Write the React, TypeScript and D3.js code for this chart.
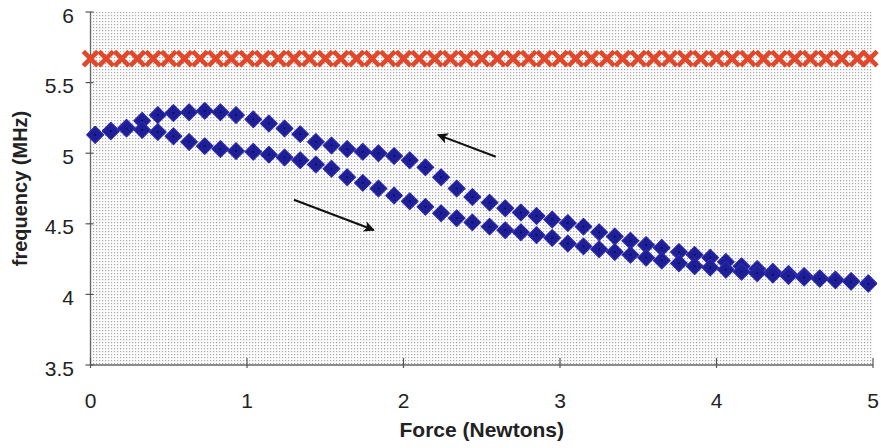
import React from 'react';
import * as d3 from 'd3';

// force steps (N) for the blue hysteresis loop
const blueForce = [
  0.03, 0.13, 0.23, 0.33, 0.43, 0.53, 0.63, 0.73, 0.83, 0.93,
  1.04, 1.14, 1.24, 1.34, 1.44, 1.54, 1.64, 1.74, 1.84, 1.94,
  2.04, 2.14, 2.24, 2.34, 2.44, 2.55, 2.65, 2.75, 2.85, 2.95,
  3.05, 3.15, 3.25, 3.35, 3.45, 3.55, 3.65, 3.76, 3.86, 3.96,
  4.06, 4.16, 4.26, 4.36, 4.46, 4.56, 4.66, 4.76, 4.86, 4.97,
];
// loading branch (force increasing)
const loading = [
  5.13, 5.155, 5.175, 5.165, 5.15, 5.12, 5.08, 5.05, 5.03, 5.015,
  5.01, 4.99, 4.97, 4.95, 4.92, 4.89, 4.83, 4.79, 4.75, 4.70,
  4.66, 4.62, 4.575, 4.54, 4.51, 4.48, 4.455, 4.44, 4.42, 4.40,
  4.36, 4.34, 4.32, 4.30, 4.28, 4.26, 4.24, 4.22, 4.20, 4.19,
  4.175, 4.16, 4.15, 4.14, 4.13, 4.12, 4.11, 4.10, 4.09, 4.075,
];
// unloading branch (force decreasing)
const unloading = [
  5.13, 5.16, 5.18, 5.23, 5.27, 5.285, 5.29, 5.30, 5.29, 5.27,
  5.24, 5.21, 5.175, 5.135, 5.08, 5.055, 5.03, 5.01, 5.00, 4.98,
  4.95, 4.90, 4.83, 4.75, 4.69, 4.65, 4.61, 4.58, 4.555, 4.53,
  4.505, 4.48, 4.44, 4.41, 4.38, 4.35, 4.33, 4.30, 4.28, 4.26,
  4.23, 4.20, 4.18, 4.16, 4.145, 4.13, 4.115, 4.105, 4.095, 4.08,
];

// reference series (red crosses)
const redForce = [
  0.0, 0.1, 0.2, 0.3, 0.4, 0.5, 0.6, 0.7, 0.8, 0.9,
  1.0, 1.1, 1.2, 1.3, 1.4, 1.5, 1.6, 1.7, 1.8, 1.9,
  2.0, 2.1, 2.2, 2.3, 2.4, 2.5, 2.6, 2.7, 2.8, 2.9,
  3.0, 3.1, 3.2, 3.3, 3.4, 3.5, 3.6, 3.7, 3.8, 3.9,
  4.0, 4.1, 4.2, 4.3, 4.4, 4.5, 4.6, 4.7, 4.8, 4.9, 4.98,
];
const redFreq = [
  5.67, 5.67, 5.67, 5.67, 5.67, 5.67, 5.67, 5.67, 5.67, 5.67,
  5.67, 5.67, 5.67, 5.67, 5.67, 5.67, 5.67, 5.67, 5.67, 5.67,
  5.67, 5.67, 5.67, 5.67, 5.67, 5.67, 5.67, 5.67, 5.67, 5.67,
  5.67, 5.67, 5.67, 5.67, 5.67, 5.67, 5.67, 5.67, 5.67, 5.67,
  5.67, 5.67, 5.67, 5.67, 5.67, 5.67, 5.67, 5.67, 5.67, 5.67, 5.67,
];

const xTicks = [0, 1, 2, 3, 4, 5];
const yTicks = [3.5, 4, 4.5, 5, 5.5, 6];

// direction arrows [x1, y1, x2, y2] in data units (tail -> head)
const arrows = [
  [2.59, 4.975, 2.22, 5.13],
  [1.30, 4.67, 1.81, 4.456],
];

const W = 881;
const H = 448;
const margin = { left: 90.5, right: 8, top: 12, bottom: 83 };

export default function App() {
  const x = d3.scaleLinear().domain([0, 5]).range([margin.left, W - margin.right]);
  const y = d3.scaleLinear().domain([3.5, 6]).range([H - margin.bottom, margin.top]);
  const font = 'Arial, "Liberation Sans", sans-serif';

  const diamond = (cx: number, cy: number, r: number) =>
    `M${cx},${cy - r}L${cx + r},${cy}L${cx},${cy + r}L${cx - r},${cy}Z`;

  const bluePts = [
    ...blueForce.map((f, i) => [f, unloading[i]]),
    ...blueForce.map((f, i) => [f, loading[i]]),
  ];

  return (
    <svg width={W} height={H} style={{ position: 'absolute', left: 0, top: 0, background: '#fff' }}
      fontFamily={font}>
      <defs>
        <pattern id="dots" width="3" height="3" patternUnits="userSpaceOnUse">
          <rect width="3" height="3" fill="#fdfdfd" />
          <rect width="1.2" height="1.2" fill="#a8a8a8" />
        </pattern>
        <marker id="head" viewBox="0 0 10 10" refX="9" refY="5" markerWidth="5.5" markerHeight="5.5"
          orient="auto" markerUnits="strokeWidth">
          <path d="M0,0L10,5L0,10L2.5,5Z" fill="#111" />
        </marker>
      </defs>

      <rect x={x(0)} y={y(6)} width={x(5) - x(0)} height={y(3.5) - y(6)} fill="url(#dots)" />

      {/* axes */}
      <line x1={x(0)} x2={x(0)} y1={y(6)} y2={y(3.5)} stroke="#666" strokeWidth={1.3} />
      <line x1={x(0)} x2={x(5)} y1={y(3.5)} y2={y(3.5)} stroke="#666" strokeWidth={1.3} />
      {yTicks.map(t => (
        <g key={'y' + t}>
          <line x1={x(0) - 5} x2={x(0) + 3} y1={y(t)} y2={y(t)} stroke="#555" strokeWidth={1.2} />
          <text x={74} y={y(t) + 10.5} fontSize={21} textAnchor="end" fill="#222">{t}</text>
        </g>
      ))}
      {xTicks.map(t => (
        <g key={'x' + t}>
          <line x1={x(t)} x2={x(t)} y1={y(3.5) - 7} y2={y(3.5) + 3} stroke="#555" strokeWidth={1.2} />
          <text x={x(t)} y={408} fontSize={21} textAnchor="middle" fill="#222">{t}</text>
        </g>
      ))}

      {/* red reference crosses */}
      {redForce.map((f, i) => {
        const cx = x(f);
        const cy = y(redFreq[i]);
        const r = 7.2;
        return (
          <path key={'r' + i} d={`M${cx - r},${cy - r}L${cx + r},${cy + r}M${cx - r},${cy + r}L${cx + r},${cy - r}`}
            stroke="#e2472a" strokeWidth={4.6} />
        );
      })}

      {/* blue diamonds */}
      {bluePts.map(([f, v], i) => (
        <g key={'b' + i}>
          <path d={diamond(x(f), y(v), 8.3)} fill="#1e1e96" stroke="#2b2bab" strokeWidth={1.2} strokeLinejoin="round" />
          <rect x={x(f) - 0.9} y={y(v) - 0.9} width={1.8} height={1.8} fill="#0d0d55" />
        </g>
      ))}

      {/* arrows */}
      {arrows.map((a, i) => (
        <line key={'a' + i} x1={x(a[0])} y1={y(a[1])} x2={x(a[2])} y2={y(a[3])}
          stroke="#111" strokeWidth={2} markerEnd="url(#head)" />
      ))}

      {/* titles */}
      <text x={(x(0) + x(5)) / 2} y={437} fontSize={21} fontWeight="bold" textAnchor="middle" fill="#222">
        Force (Newtons)
      </text>
      <text transform={`translate(27,${(y(3.5) + y(6)) / 2}) rotate(-90)`} fontSize={20} fontWeight="bold"
        textAnchor="middle" fill="#222">
        frequency (MHz)
      </text>
    </svg>
  );
}
